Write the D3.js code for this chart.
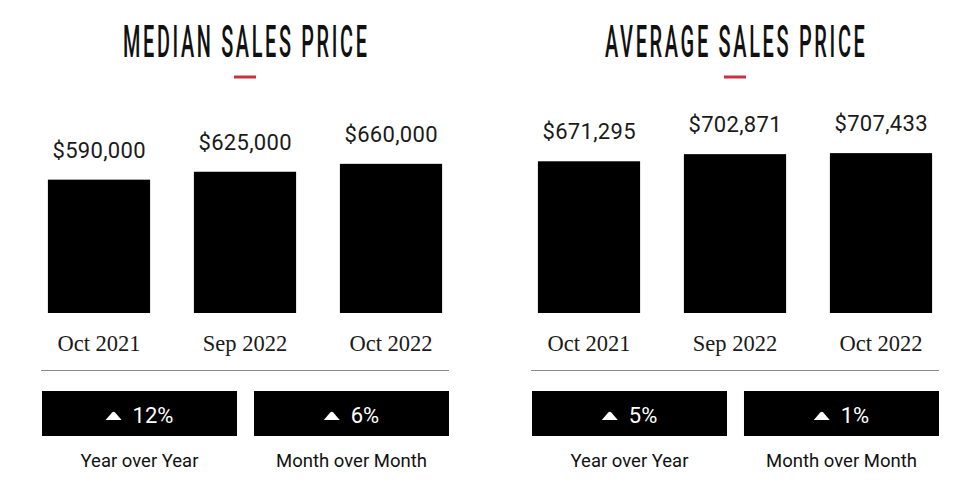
<!DOCTYPE html>
<html>
<head>
<meta charset="utf-8">
<script src="https://cdn.jsdelivr.net/npm/d3@7"></script>
<style>
  html, body { margin: 0; padding: 0; background: #fff; }
  svg { display: block; }
</style>
</head>
<body>
<svg id="chart" width="980" height="490"></svg>
<script>
// ---- data ----
const categories = ["Oct 2021", "Sep 2022", "Oct 2022"];
const medianValues = [590000, 625000, 660000];
const averageValues = [671295, 702871, 707433];
const changeLabels = ["Year over Year", "Month over Month"];
const medianChanges = [12, 6];
const averageChanges = [5, 1];
const panelTitles = ["MEDIAN SALES PRICE", "AVERAGE SALES PRICE"];

const panels = [
  { title: panelTitles[0], values: medianValues, changes: medianChanges, x0: 26, x1: 464, titleLen: 244 },
  { title: panelTitles[1], values: averageValues, changes: averageChanges, x0: 516, x1: 954, titleLen: 260 }
];

const svg = d3.select("#chart");
const y = d3.scaleLinear().domain([0, 1000000]).range([313, 87]);
const fmt = v => "$" + d3.format(",")(v);

panels.forEach(p => {
  const g = svg.append("g");
  const x = d3.scaleBand().domain(categories).range([p.x0, p.x1]).paddingInner(0.3).paddingOuter(0.15);
  const cx = (p.x0 + p.x1) / 2;

  // title: condensed look via horizontal scaling
  const ls = 6;
  const tg = g.append("g");
  const tt = tg.append("text")
    .attr("x", 0).attr("y", 0)
    .attr("font-family", "Roboto, sans-serif")
    .attr("font-weight", 500)
    .attr("font-size", 45)
    .attr("letter-spacing", ls)
    .attr("fill", "#111")
    .text(p.title);
  const nat = tt.node().getComputedTextLength() - ls;
  const s = p.titleLen / nat;
  tg.attr("transform", `translate(${cx - p.titleLen / 2},57) scale(${s},1)`);

  // red accent
  g.append("rect")
    .attr("x", cx - 11).attr("y", 75.5).attr("width", 22).attr("height", 3)
    .attr("fill", "#c7323e");

  // bars
  g.selectAll("rect.bar").data(p.values).join("rect")
    .attr("class", "bar")
    .attr("x", (d, i) => x(categories[i]))
    .attr("y", d => y(d))
    .attr("width", x.bandwidth())
    .attr("height", d => y(0) - y(d))
    .attr("fill", "#000");

  // value labels
  g.selectAll("text.val").data(p.values).join("text")
    .attr("class", "val")
    .attr("x", (d, i) => x(categories[i]) + x.bandwidth() / 2)
    .attr("y", d => y(d) - 22)
    .attr("text-anchor", "middle")
    .attr("font-family", "Roboto, sans-serif")
    .attr("font-size", 22)
    .attr("fill", "#1a1a1a")
    .attr("textLength", 93)
    .attr("lengthAdjust", "spacing")
    .text(d => fmt(d));

  // category labels
  g.selectAll("text.cat").data(categories).join("text")
    .attr("class", "cat")
    .attr("x", d => x(d) + x.bandwidth() / 2)
    .attr("y", 351)
    .attr("text-anchor", "middle")
    .attr("font-family", "'Liberation Serif', serif")
    .attr("font-size", 22.5)
    .attr("fill", "#1a1a1a")
    .text(d => d);

  // separator
  g.append("line")
    .attr("x1", p.x0 + 15).attr("x2", p.x1 - 15)
    .attr("y1", 370.5).attr("y2", 370.5)
    .attr("stroke", "#8a8a8a").attr("stroke-width", 1.2);

  // change boxes
  const bx = d3.scaleBand().domain(changeLabels).range([p.x0 + 16, p.x1 - 15]).paddingInner(0.08);
  changeLabels.forEach((lab, i) => {
    const bxl = bx(lab), bw = bx.bandwidth(), bc = bxl + bw / 2;
    g.append("rect")
      .attr("x", bxl).attr("y", 391).attr("width", bw).attr("height", 45)
      .attr("fill", "#000");
    const grp = g.append("g");
    const t = grp.append("text")
      .attr("y", 423)
      .attr("font-family", "Roboto, sans-serif")
      .attr("font-size", 22)
      .attr("fill", "#fff")
      .text(p.changes[i] + "%");
    const tw = t.node().getComputedTextLength();
    const triW = 16, gap = 11;
    const total = triW + gap + tw;
    const start = bc - total / 2;
    grp.append("path")
      .attr("d", `M${start},420 L${start + triW},420 L${start + triW / 2 + 1.5},412.5 Q${start + triW / 2},411 ${start + triW / 2 - 1.5},412.5 Z`)
      .attr("fill", "#fff");
    t.attr("x", start + triW + gap);

    g.append("text")
      .attr("x", bc).attr("y", 467)
      .attr("text-anchor", "middle")
      .attr("font-family", "Roboto, sans-serif")
      .attr("font-size", 18.5)
      .attr("fill", "#111")
      .text(lab);
  });
});
</script>
</body>
</html>
